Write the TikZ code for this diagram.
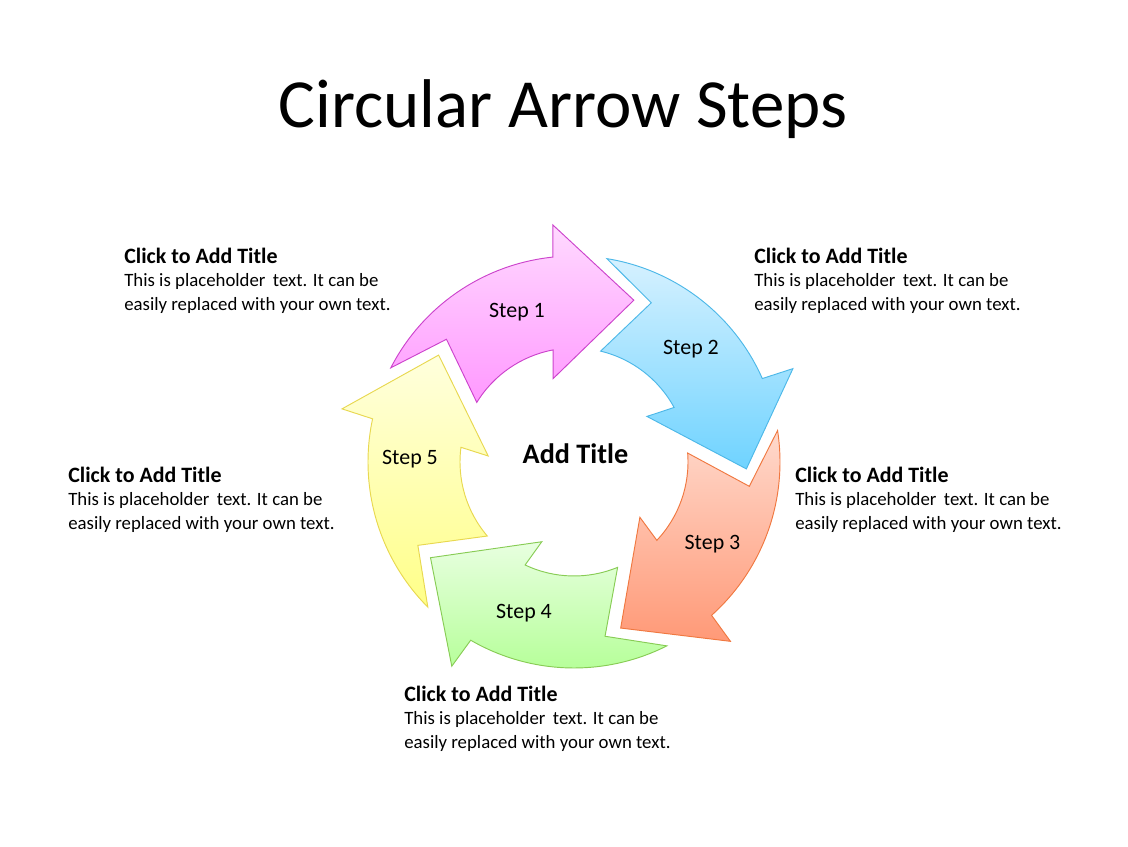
\documentclass[tikz,border=0pt]{standalone}
\usepackage{fontspec}
\setmainfont{Carlito}
\definecolor{pinkT}{HTML}{FFD9FF}
\definecolor{pinkB}{HTML}{FF99FF}
\definecolor{pinkE}{HTML}{CC44CC}
\definecolor{blueT}{HTML}{D6F1FF}
\definecolor{blueB}{HTML}{6FD3FF}
\definecolor{blueE}{HTML}{4DB8E8}
\definecolor{orangeT}{HTML}{FFD9CC}
\definecolor{orangeB}{HTML}{FF9977}
\definecolor{orangeE}{HTML}{F07840}
\definecolor{greenT}{HTML}{E8FFE0}
\definecolor{greenB}{HTML}{B3FF95}
\definecolor{greenE}{HTML}{88CC55}
\definecolor{yellowT}{HTML}{FFFFDD}
\definecolor{yellowB}{HTML}{FFFF88}
\definecolor{yellowE}{HTML}{E8D850}
\newcommand{\infoblock}{{\fontsize{14}{15}\selectfont\bfseries Click to Add Title}\\This is placeholder\,\ text. It can be\\easily replaced with your own text.}
\tikzset{
steparrow/.style={line width=0.6pt, line join=miter},
steplabel/.style={font=\fontsize{14}{16}\selectfont, anchor=base, inner sep=0pt},
infotext/.style={font=\fontsize{12}{15}\selectfont, align=left, anchor=north west, inner sep=0pt}}

\begin{document}
\begin{tikzpicture}[x=0.6383pt,y=0.6383pt]
\useasboundingbox (0,0) rectangle (1128,846);
\node[anchor=base] (title) at (563,718) {\fontsize{44}{50}\selectfont Circular Arrow Steps};

\begin{scope}[shift={(574,384)}]
  \foreach \top/\bot/\edge [count=\k from 0] in {pinkT/pinkB/pinkE, blueT/blueB/blueE, orangeT/orangeB/orangeE, greenT/greenB/greenE, yellowT/yellowB/yellowE}{
    \pgfmathsetmacro\o{-72*\k}
    \draw[steparrow, draw=\edge, top color=\top, bottom color=\bot]
      ({152.8+\o}:206) arc[start angle=152.8+\o, end angle=95.9+\o, radius=206]
      -- ({95.1+\o}:238) -- ({69.7+\o}:172.5) -- ({104+\o}:86) -- ({100.6+\o}:114)
      arc[start angle=100.6+\o, end angle=148.5+\o, radius=114]
      -- ({136.1+\o}:177) -- cycle;
  }
\end{scope}

\node[steplabel] (step1) at (517,528) {Step 1};
\node[steplabel] (step2) at (691,491) {Step 2};
\node[steplabel] (step3) at (712.5,296) {Step 3};
\node[steplabel] (step4) at (524,227.7) {Step 4};
\node[steplabel] (step5) at (410,381) {Step 5};
\node[anchor=base, inner sep=0pt, font=\fontsize{18}{20}\selectfont\bfseries] (center) at (575.5,382) {Add Title};

\node[infotext] (info1) at (754,598.4) {\infoblock};
\node[infotext] (info2) at (795,379.4) {\infoblock};
\node[infotext] (info3) at (404,160.4) {\infoblock};
\node[infotext] (info4) at (68,379.4) {\infoblock};
\node[infotext] (info5) at (124,598.4) {\infoblock};
\end{tikzpicture}
\end{document}
